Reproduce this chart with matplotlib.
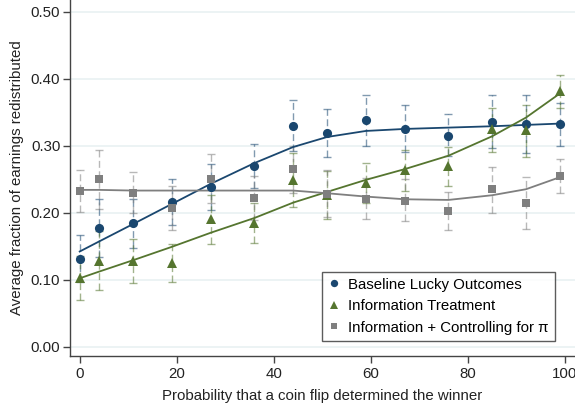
import numpy as np
import matplotlib
matplotlib.use("Agg")
import matplotlib.pyplot as plt

plt.rcParams['font.family'] = ['Liberation Sans', 'DejaVu Sans']

# probability (%) that a coin flip decided the winner
prob = np.array([0, 4, 11, 19, 27, 36, 44, 51, 59, 67, 76, 85, 92, 99])

# Baseline Lucky Outcomes
base_mean = np.array([0.131, 0.177, 0.184, 0.216, 0.239, 0.270, 0.330, 0.319, 0.338, 0.325, 0.315, 0.336, 0.333, 0.332])
base_hi   = np.array([0.166, 0.220, 0.220, 0.250, 0.273, 0.302, 0.368, 0.355, 0.375, 0.360, 0.347, 0.376, 0.376, 0.363])
base_lo   = np.array([0.096, 0.134, 0.147, 0.181, 0.204, 0.237, 0.292, 0.283, 0.300, 0.290, 0.285, 0.296, 0.289, 0.300])
base_fit  = np.array([0.142, 0.157, 0.183, 0.213, 0.243, 0.274, 0.298, 0.313, 0.322, 0.325, 0.327, 0.329, 0.331, 0.333])

# Information Treatment
info_mean = np.array([0.102, 0.128, 0.128, 0.125, 0.190, 0.185, 0.249, 0.226, 0.244, 0.263, 0.270, 0.325, 0.323, 0.382])
info_hi   = np.array([0.135, 0.172, 0.160, 0.153, 0.227, 0.215, 0.289, 0.262, 0.274, 0.293, 0.298, 0.357, 0.360, 0.405])
info_lo   = np.array([0.069, 0.084, 0.095, 0.097, 0.153, 0.155, 0.209, 0.190, 0.214, 0.233, 0.240, 0.290, 0.283, 0.356])
info_fit  = np.array([0.102, 0.112, 0.129, 0.149, 0.170, 0.192, 0.215, 0.231, 0.249, 0.265, 0.285, 0.314, 0.342, 0.378])

# Information + Controlling for pi
ctrl_mean = np.array([0.232, 0.250, 0.230, 0.207, 0.251, 0.222, 0.265, 0.228, 0.221, 0.218, 0.2025, 0.235, 0.215, 0.255])
ctrl_hi   = np.array([0.263, 0.294, 0.260, 0.240, 0.287, 0.255, 0.300, 0.264, 0.252, 0.250, 0.231, 0.268, 0.253, 0.280])
ctrl_lo   = np.array([0.201, 0.206, 0.200, 0.174, 0.215, 0.189, 0.230, 0.194, 0.190, 0.187, 0.174, 0.200, 0.176, 0.230])
ctrl_fit  = np.array([0.234, 0.234, 0.233, 0.233, 0.233, 0.233, 0.233, 0.229, 0.224, 0.220, 0.219, 0.226, 0.235, 0.253])

navy = "#1a476f"
olive = "#55752f"
grey = "#7f7f7f"

series = [
    ("Baseline Lucky Outcomes", base_mean, base_lo, base_hi, base_fit, navy, "o", 6.6),
    ("Information Treatment", info_mean, info_lo, info_hi, info_fit, olive, "^", 7.2),
    ("Information + Controlling for π", ctrl_mean, ctrl_lo, ctrl_hi, ctrl_fit, grey, "s", 6.0),
]

fig = plt.figure(figsize=(5.75, 4.07), dpi=100)
ax = fig.add_axes([70/575, 51/407, 505/575, 356/407])

# error bars first (light, dashed)
for name, m, lo, hi, fit, col, mk, ms in series:
    eb = ax.errorbar(prob, m, yerr=[m - lo, hi - m], fmt='none', ecolor=col,
                     elinewidth=1.0, capsize=3.2, capthick=1.0, alpha=0.55, zorder=2)
    eb[2][0].set_linestyle((0, (5, 2.5)))

# fitted curves
for name, m, lo, hi, fit, col, mk, ms in series:
    ax.plot(prob, fit, color=col, lw=1.3, zorder=3)

# point estimates
handles = []
for name, m, lo, hi, fit, col, mk, ms in series:
    h, = ax.plot(prob, m, linestyle='none', marker=mk, markersize=ms, color=col,
                 markeredgewidth=0, label=name, zorder=4)
    handles.append(h)

ax.set_xlim(-2, 102.1)
ax.set_ylim(-0.014, 0.5175)
ax.set_xticks([0, 20, 40, 60, 80, 100])
ax.set_yticks([0.0, 0.1, 0.2, 0.3, 0.4, 0.5])
ax.set_yticklabels(["%.2f" % v for v in [0.0, 0.1, 0.2, 0.3, 0.4, 0.5]])
ax.yaxis.grid(True, color="#eaf2f3", lw=1.3)
ax.set_axisbelow(True)

for s in ["top", "right"]:
    ax.spines[s].set_visible(False)
for s in ["left", "bottom"]:
    ax.spines[s].set_color("#444444")
    ax.spines[s].set_linewidth(1.0)
ax.tick_params(axis='both', direction='out', length=5, width=1, color="#444444",
               labelsize=10.8, labelcolor="#222222")
ax.tick_params(axis='x', pad=3)
ax.tick_params(axis='y', pad=2)

ax.set_xlabel("Probability that a coin flip determined the winner", fontsize=10.8,
              color="#222222", labelpad=6)
ax.set_ylabel("Average fraction of earnings redistributed", fontsize=10.8,
              color="#222222", labelpad=5)

leg = ax.legend(handles=handles, loc='lower left', bbox_to_anchor=(0.499, 0.043),
                fontsize=10.8, frameon=True, fancybox=False, edgecolor="#333333",
                borderpad=0.4, handlelength=0.8, handletextpad=0.55, labelspacing=0.5,
                borderaxespad=0, markerscale=0.8)
leg.get_frame().set_linewidth(1.0)

fig.savefig("out.png", dpi=100)
